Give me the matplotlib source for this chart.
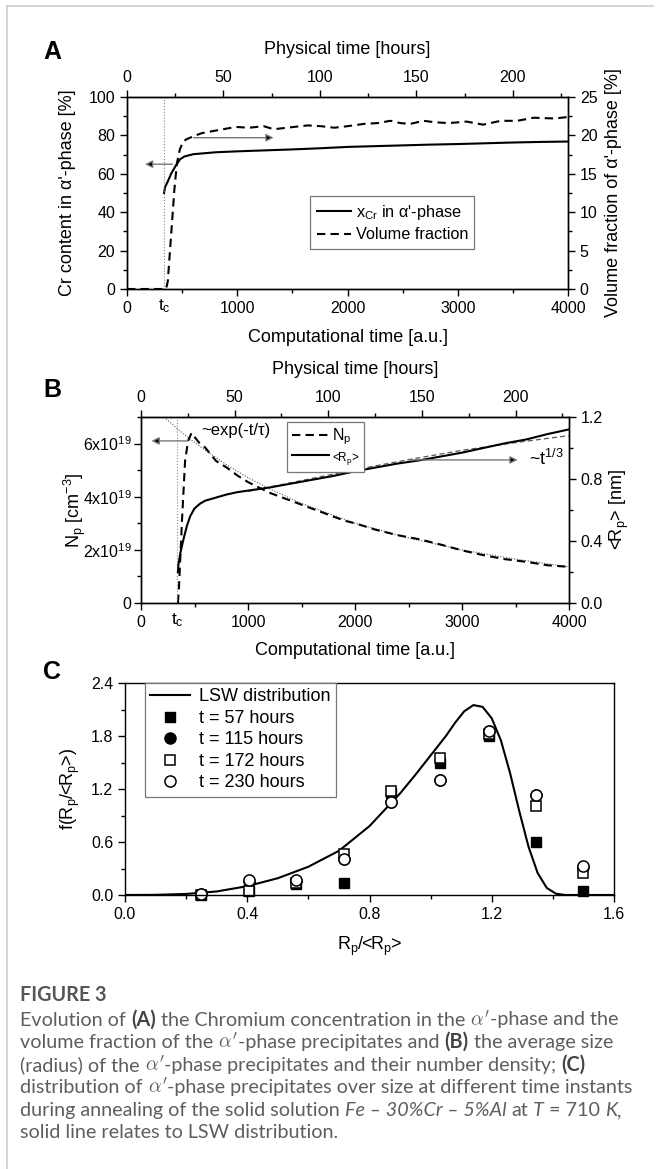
import matplotlib
matplotlib.use('Agg')
import matplotlib.pyplot as plt
from matplotlib.lines import Line2D
from matplotlib.ticker import MultipleLocator, FixedLocator, FixedFormatter

plt.rcParams['font.family'] = ['Liberation Sans', 'DejaVu Sans']
plt.rcParams['mathtext.fontset'] = 'custom'
plt.rcParams['mathtext.rm'] = 'Liberation Sans'
plt.rcParams['mathtext.it'] = 'Liberation Sans:italic'
plt.rcParams['mathtext.bf'] = 'Liberation Sans:bold'

# ---- data panel A (computational time a.u.)
tA_cr = [336, 345, 370, 400, 440, 480, 520, 600, 800, 1000, 1250, 1500, 1750, 2000,
         2250, 2500, 2750, 3000, 3250, 3500, 3750, 4000]
cr = [50, 53, 56, 60, 64, 67.5, 69, 70.2, 71.2, 71.7, 72.2, 72.7, 73.3, 74.0,
      74.4, 74.8, 75.2, 75.5, 75.9, 76.3, 76.6, 76.8]
tA_vf = [0, 100, 200, 300, 354, 370, 390, 410, 430, 453, 480, 510, 540, 604, 680, 755,
         870, 986, 1110, 1240, 1330, 1450, 1640, 1760, 1880, 2000, 2150, 2270, 2390,
         2480, 2570, 2690, 2800, 2920, 3080, 3230, 3390, 3540, 3690, 3880, 4000]
vf = [0, 0, 0, 0, 0, 1, 5, 9, 13, 16.4, 18.2, 19.2, 19.5, 19.9, 20.3, 20.5,
      20.8, 21.1, 21.0, 21.2, 20.8, 21.0, 21.3, 21.2, 21.0, 21.2, 21.5, 21.6, 21.9,
      21.6, 21.5, 21.9, 21.7, 21.6, 21.8, 21.4, 21.9, 21.9, 22.3, 22.2, 22.4]

# ---- data panel B
tB_n = [345, 355, 383, 412, 440, 472, 500, 550, 600, 700, 800, 900, 1000, 1100, 1200,
        1300, 1400, 1500, 1600, 1700, 1800, 1900, 2000, 2200, 2400, 2600, 2800, 3000,
        3200, 3400, 3600, 3800, 4000]
Np = [0, 0.6, 3.1, 5.35, 6.1, 6.4, 6.25, 6.0, 5.85, 5.35, 5.1, 4.8, 4.55, 4.35, 4.15,
      4.0, 3.85, 3.7, 3.55, 3.4, 3.25, 3.1, 3.0, 2.75, 2.55, 2.4, 2.2, 1.98,
      1.8, 1.65, 1.55, 1.42, 1.36]  # x1e19
tB_r = [345, 350, 370, 400, 430, 460, 500, 550, 600, 700, 800, 900, 1000, 1200, 1400,
        1600, 1800, 2000, 2200, 2400, 2600, 2800, 3000, 3200, 3400, 3600, 3800, 4000]
Rp = [0.2, 0.25, 0.33, 0.42, 0.5, 0.56, 0.61, 0.64, 0.66, 0.68, 0.70, 0.715, 0.725, 0.745,
      0.77, 0.795, 0.82, 0.85, 0.875, 0.9, 0.92, 0.945, 0.97, 1.0, 1.03, 1.055, 1.09, 1.12]
fitN_t = [215, 400, 600, 800, 1000, 1200, 1500, 2000, 2500, 3000, 3500, 4000]
fitN = [7.0, 6.35, 5.75, 5.2, 4.72, 4.3, 3.75, 3.0, 2.45, 2.0, 1.65, 1.36]
fitR_t = [1000, 1500, 2000, 2500, 3000, 3500, 4000]
fitR = [0.72, 0.79, 0.86, 0.925, 0.985, 1.035, 1.08]

# ---- data panel C
u = [0.0, 0.1, 0.2, 0.3, 0.4, 0.5, 0.6, 0.7, 0.8, 0.9, 0.95, 1.0, 1.05, 1.08, 1.11, 1.14,
     1.17, 1.2, 1.23, 1.26, 1.29, 1.32, 1.35, 1.38, 1.41, 1.44, 1.6]
lsw = [0.0, 0.002, 0.012, 0.04, 0.1, 0.19, 0.32, 0.5, 0.78, 1.15, 1.36, 1.58, 1.8, 1.95,
       2.08, 2.15, 2.13, 2.0, 1.75, 1.38, 0.95, 0.55, 0.25, 0.08, 0.015, 0.0, 0.0]
xs = [0.25, 0.405, 0.56, 0.715, 0.87, 1.03, 1.19, 1.345, 1.5]
f57 = [0.0, 0.04, 0.13, 0.135, 1.15, 1.50, 1.80, 0.6, 0.04]
f115 = [0.01, 0.16, 0.16, 0.41, 1.05, 1.30, 1.86, 1.13, 0.32]
f172 = [0.0, 0.04, 0.14, 0.46, 1.18, 1.55, 1.82, 1.01, 0.25]
f230 = [0.01, 0.17, 0.17, 0.41, 1.05, 1.30, 1.86, 1.13, 0.33]

tc = 336
HOURS = 17.5  # a.u. per hour

W, H = 660, 1169
fig = plt.figure(figsize=(W / 100, H / 100), dpi=100)

def box(l, t, r, b):
    return [l / W, 1 - b / H, (r - l) / W, (b - t) / H]

TS = 11.5
LS = 13

def style(ax):
    ax.tick_params(which='both', direction='out', labelsize=TS, width=1)
    ax.tick_params(which='major', length=5)
    ax.tick_params(which='minor', length=3)
    for s in ax.spines.values():
        s.set_linewidth(1)

def top_axis(ax, pad):
    sec = ax.secondary_xaxis('top', functions=(lambda x: x / HOURS, lambda h: h * HOURS))
    sec.set_xticks([0, 50, 100, 150, 200])
    sec.xaxis.set_minor_locator(FixedLocator([25, 75, 125, 175, 225]))
    sec.tick_params(which='both', direction='out', labelsize=TS, width=1)
    sec.tick_params(which='major', length=5)
    sec.tick_params(which='minor', length=3)
    sec.set_xlabel('Physical time [hours]', fontsize=LS, labelpad=pad)
    return sec

def arrow(ax, x0, x1, y):
    ax.annotate('', xy=(x1, y), xytext=(x0, y),
                arrowprops=dict(arrowstyle='-|>', ec='#777777', fc='k', lw=1,
                                mutation_scale=11, shrinkA=0, shrinkB=0))

# ================= panel A
axA = fig.add_axes(box(127, 97, 568, 289))
axA2 = axA.twinx()
axA.plot(tA_cr, cr, color='k', lw=1.5)
axA2.plot(tA_vf, vf, color='k', lw=1.5, ls=(0, (4, 2.5)))
axA.axvline(tc, color='#888888', lw=0.8, ls=':')
axA.set_xlim(0, 4000)
axA.set_ylim(0, 100)
axA2.set_ylim(0, 25)
axA.xaxis.set_major_locator(MultipleLocator(1000))
axA.xaxis.set_minor_locator(MultipleLocator(500))
axA.yaxis.set_major_locator(MultipleLocator(20))
axA.yaxis.set_minor_locator(MultipleLocator(10))
axA2.yaxis.set_major_locator(MultipleLocator(5))
axA2.yaxis.set_minor_locator(MultipleLocator(2.5))
style(axA)
style(axA2)
axA.set_xlabel('Computational time [a.u.]', fontsize=LS)
axA.xaxis.set_label_coords(0.5, -0.21)
axA.set_ylabel("Cr content in α'-phase [%]", fontsize=LS)
axA.yaxis.set_label_coords(-0.115, 0.5)
axA2.set_ylabel("Volume fraction of α'-phase [%]", fontsize=LS)
axA2.yaxis.set_label_coords(1.085, 0.5)
axA.text(tc, -0.045, '$\\mathregular{t_c}$', transform=axA.get_xaxis_transform(),
         ha='center', va='top', fontsize=12.5)
top_axis(axA, 12)
arrow(axA, 413, 163, 65)
arrow(axA, 604, 1330, 78.8)
hA = [Line2D([], [], color='k', lw=1.5),
      Line2D([], [], color='k', lw=1.5, ls=(0, (4, 2.5)))]
legA = axA2.legend(hA, ["$\\mathregular{x_{Cr}}$ in α'-phase", 'Volume fraction'],
                   loc='upper left', bbox_to_anchor=(0.415, 0.484), borderaxespad=0,
                   fontsize=11.7, handlelength=2.1, handletextpad=0.3, labelspacing=0.35,
                   borderpad=0.4, fancybox=False, edgecolor='#777777', framealpha=1)
legA.get_frame().set_linewidth(0.9)
fig.text(43 / W, 1 - 52 / H, 'A', fontsize=18, fontweight='bold', va='center')

# ================= panel B
axB = fig.add_axes(box(141, 417, 569, 603))
axB2 = axB.twinx()
axB.plot(fitN_t, fitN, color='#555555', lw=0.8, ls=(0, (1, 1.5)))
axB.plot(tB_n, Np, color='k', lw=1.5, ls=(0, (4, 2.5)))
axB2.plot(fitR_t, fitR, color='#555555', lw=0.9, ls=(0, (4, 2.5)))
axB2.plot(tB_r, Rp, color='k', lw=1.5)
axB.axvline(tc, color='#888888', lw=0.8, ls=':')
axB.set_xlim(0, 4000)
axB.set_ylim(0, 7)
axB2.set_ylim(0, 1.2)
axB.xaxis.set_major_locator(MultipleLocator(1000))
axB.xaxis.set_minor_locator(MultipleLocator(500))
axB.yaxis.set_major_locator(FixedLocator([0, 2, 4, 6]))
axB.yaxis.set_major_formatter(FixedFormatter(['0', '$\\mathregular{2x10^{19}}$',
                                              '$\\mathregular{4x10^{19}}$',
                                              '$\\mathregular{6x10^{19}}$']))
axB.yaxis.set_minor_locator(MultipleLocator(1))
axB2.yaxis.set_major_locator(MultipleLocator(0.4))
axB2.yaxis.set_minor_locator(MultipleLocator(0.2))
axB2.yaxis.set_major_formatter(plt.FormatStrFormatter('%.1f'))
style(axB)
style(axB2)
axB.tick_params(axis='y', pad=2)
axB.set_xlabel('Computational time [a.u.]', fontsize=LS)
axB.xaxis.set_label_coords(0.5, -0.21)
axB.set_ylabel('$\\mathregular{N_p\\ [cm^{-3}]}$', fontsize=LS)
axB.yaxis.set_label_coords(-0.125, 0.5)
axB2.set_ylabel('<R$_\\mathregular{p}$> [nm]', fontsize=LS)
axB2.yaxis.set_label_coords(1.09, 0.5)
axB.text(tc, -0.045, '$\\mathregular{t_c}$', transform=axB.get_xaxis_transform(),
         ha='center', va='top', fontsize=12.5)
top_axis(axB, 12)
arrow(axB, 433, 98, 6.1)
arrow(axB2, 2514, 3520, 0.923)
axB.text(885, 6.48, '~exp(-t/τ)', fontsize=12, ha='center', va='center')
axB2.text(3790, 0.93, '~t$^\\mathregular{1/3}$', fontsize=13, ha='center', va='center')
hB = [Line2D([], [], color='k', lw=1.5, ls=(0, (4, 2.5))),
      Line2D([], [], color='k', lw=1.5)]
legB = axB2.legend(hB, ['N$_\\mathregular{p}$', '<R$_\\mathregular{p}$>'],
                   loc='upper left', bbox_to_anchor=(0.342, 0.975), borderaxespad=0,
                   fontsize=11.5, handlelength=2.3, handletextpad=0.2, labelspacing=0.15,
                   borderpad=0.3, fancybox=False, edgecolor='#777777', framealpha=1)
legB.get_texts()[1].set_fontsize(8.5)
legB.get_frame().set_linewidth(0.9)
fig.text(43 / W, 1 - 390 / H, 'B', fontsize=18, fontweight='bold', va='center')

# ================= panel C
axC = fig.add_axes(box(125, 683, 614, 895))
axC.plot(u, lsw, color='k', lw=1.5, label='LSW distribution')
axC.plot(xs, f57, ls='none', marker='s', ms=7, mfc='k', mec='k', clip_on=False,
         label='t = 57 hours')
axC.plot(xs, f115, ls='none', marker='o', ms=8, mfc='k', mec='k', clip_on=False,
         label='t = 115 hours')
axC.plot(xs, f172, ls='none', marker='s', ms=7, mfc='white', mec='k', mew=1.1,
         clip_on=False, label='t = 172 hours')
axC.plot(xs, f230, ls='none', marker='o', ms=8, mfc='white', mec='k', mew=1.1,
         clip_on=False, label='t = 230 hours')
axC.set_xlim(0, 1.6)
axC.set_ylim(0, 2.4)
axC.xaxis.set_major_locator(MultipleLocator(0.4))
axC.xaxis.set_minor_locator(MultipleLocator(0.2))
axC.yaxis.set_major_locator(MultipleLocator(0.6))
axC.yaxis.set_minor_locator(MultipleLocator(0.3))
axC.xaxis.set_major_formatter(plt.FormatStrFormatter('%.1f'))
axC.yaxis.set_major_formatter(plt.FormatStrFormatter('%.1f'))
style(axC)
axC.set_xlabel('R$_\\mathregular{p}$/<R$_\\mathregular{p}$>', fontsize=LS)
axC.xaxis.set_label_coords(0.5, -0.19)
axC.set_ylabel('f(R$_\\mathregular{p}$/<R$_\\mathregular{p}$>)', fontsize=LS)
axC.yaxis.set_label_coords(-0.088, 0.5)
legC = axC.legend(loc='upper left', bbox_to_anchor=(0.04, 1.0), borderaxespad=0,
                  fontsize=13, handlelength=2.2, handletextpad=0.5, labelspacing=0.25,
                  borderpad=0.3, fancybox=False, edgecolor='#777777', framealpha=1)
legC.get_frame().set_linewidth(0.9)
fig.text(43 / W, 1 - 672 / H, 'C', fontsize=18, fontweight='bold', va='center')

# ================= frame lines
fig.add_artist(Line2D([7 / W, 653 / W], [1 - 6 / H, 1 - 6 / H], color='#cccccc', lw=1.2))
fig.add_artist(Line2D([7 / W, 7 / W], [1 - 6 / H, 0], color='#cccccc', lw=1.2))

# ================= caption
cap_col = '#5e5e5e'
CF = 14.2
X0 = 20
rend = fig.canvas.get_renderer()
fig.text(X0 / W, 1 - 1001 / H, 'FIGURE 3', fontsize=CF, fontweight='bold',
         family=['Lato', 'DejaVu Sans'], color='#555555', va='baseline')

reg = dict(family=['Lato', 'DejaVu Sans'])
bold = dict(family=['Lato', 'DejaVu Sans'], fontweight='bold', color='#444444')
ital = dict(family=['Lato', 'DejaVu Sans'], style='italic')
alph = dict(family=['Lato', 'DejaVu Sans'], math_fontfamily='cm')

def width(s, kw):
    t = fig.text(0, 0, s, fontsize=CF, **kw)
    w = t.get_window_extent(renderer=rend).width
    t.remove()
    return w

space_w = width('a a', reg) - width('aa', reg)

def rich(y, parts):
    x = X0
    for s, kw in parts:
        core = s.rstrip(' ')
        kw2 = dict(color=cap_col)
        kw2.update(kw)
        fig.text(x / W, 1 - y / H, core, fontsize=CF, va='baseline', **kw2)
        x += width(core, kw2) + space_w * (len(s) - len(core))

A = ("$\\alpha'$", alph)
lines = [
    [('Evolution of ', reg), ('(A) ', bold), ('the Chromium concentration in the ', reg), A,
     ('-phase and the', reg)],
    [('volume fraction of the ', reg), A, ('-phase precipitates and ', reg), ('(B) ', bold),
     ('the average size', reg)],
    [('(radius) of the ', reg), A, ('-phase precipitates and their number density; ', reg),
     ('(C)', bold)],
    [('distribution of ', reg), A,
     ('-phase precipitates over size at different time instants', reg)],
    [('during annealing of the solid solution ', reg), ('Fe – 30%Cr – 5%Al ', ital),
     ('at ', reg), ('T ', ital), ('= 710 ', reg), ('K', ital), (',', reg)],
    [('solid line relates to LSW distribution.', reg)],
]
for i, parts in enumerate(lines):
    rich(1025.5 + i * 22.6, parts)

fig.savefig('out.png', dpi=100)
